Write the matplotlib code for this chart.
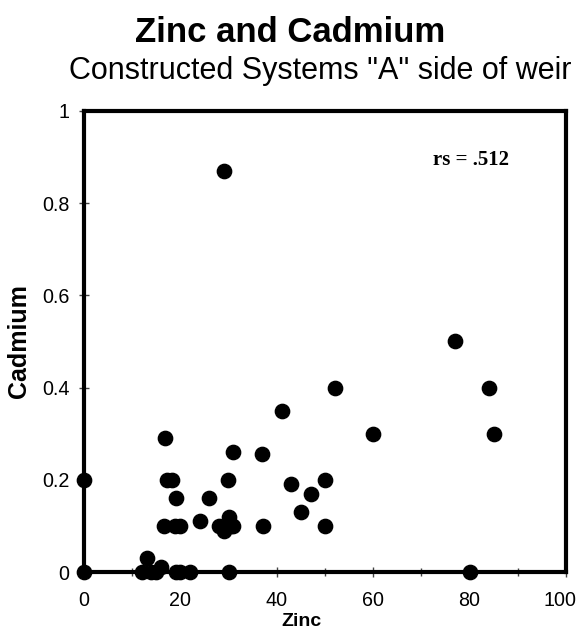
import matplotlib
matplotlib.use("Agg")
import matplotlib.pyplot as plt
import matplotlib.transforms as mtransforms
from matplotlib.ticker import MultipleLocator

# Zinc vs cadmium concentrations
zinc = [0, 0, 12, 13, 14, 15, 16, 19, 20, 22, 30, 80,
        16.6, 18.9, 19.9, 24, 26, 28, 29, 30, 30.5, 31,
        16.9, 17.2, 18.2, 19, 29.9, 31, 29,
        37, 37.1, 41, 43, 45, 47, 50, 50, 52, 60, 77, 84, 85]
cadmium = [0.2, 0, 0, 0.03, 0, 0, 0.01, 0, 0, 0, 0, 0,
           0.1, 0.1, 0.1, 0.11, 0.16, 0.1, 0.09, 0.12, 0.1, 0.1,
           0.29, 0.2, 0.2, 0.16, 0.2, 0.26, 0.87,
           0.255, 0.1, 0.35, 0.19, 0.13, 0.17, 0.2, 0.1, 0.4, 0.3, 0.5, 0.4, 0.3]

x_ticks = [0, 20, 40, 60, 80, 100]
x_tick_labels = ["0", "20", "40", "60", "80", "100"]
y_ticks = [0, 0.2, 0.4, 0.6, 0.8, 1.0]
y_tick_labels = ["0", "0.2", "0.4", "0.6", "0.8", "1"]

fig = plt.figure(figsize=(5.81, 6.31), dpi=100)
ax = fig.add_axes([0.1446, 0.0935, 0.8296, 0.7306])

ax.plot(zinc, cadmium, "o", color="black", markersize=10.3,
        clip_on=False, zorder=4)

ax.set_xlim(0, 100)
ax.set_ylim(0, 1)
ax.set_xticks(x_ticks)
ax.set_xticklabels(x_tick_labels)
ax.set_yticks(y_ticks)
ax.set_yticklabels(y_tick_labels)
ax.xaxis.set_minor_locator(MultipleLocator(10))

for side in ax.spines.values():
    side.set_linewidth(3)
    side.set_color("black")

ax.tick_params(axis="both", which="major", direction="inout", length=7,
               width=1, color="#444444", labelsize=14.2)
ax.tick_params(axis="x", which="major", pad=10.5)
ax.tick_params(axis="y", which="major", pad=7)
ax.tick_params(axis="x", which="minor", direction="inout", length=6,
               width=1, color="#444444")
for lbl in ax.get_xticklabels() + ax.get_yticklabels():
    lbl.set_family("Liberation Sans")

# keep the last x label inside the figure edge
last = ax.get_xticklabels()[-1]
last.set_transform(last.get_transform() +
                   mtransforms.ScaledTranslation(-4 / 72, 0, fig.dpi_scale_trans))

ax.set_xlabel("Zinc", fontsize=14, fontweight="bold",
              family="Liberation Sans")
ax.xaxis.set_label_coords(0.452, -0.089)
ax.set_ylabel("Cadmium", fontsize=18, fontweight="bold",
              family="Liberation Sans")
ax.yaxis.set_label_coords(-0.11, 0.501)

ax.text(80.3, 0.883, "rs = .512", fontsize=15, fontweight="bold",
        family="Liberation Serif", ha="center", va="baseline")

fig.text(0.499, 1 - 41.7 / 631, "Zinc and Cadmium", fontsize=25,
         fontweight="bold", family="Liberation Sans",
         ha="center", va="baseline")
fig.text(0.551, 1 - 79 / 631, 'Constructed Systems "A" side of weir',
         fontsize=22, family="Liberation Sans", ha="center", va="baseline")

fig.savefig("out.png", dpi=100)
